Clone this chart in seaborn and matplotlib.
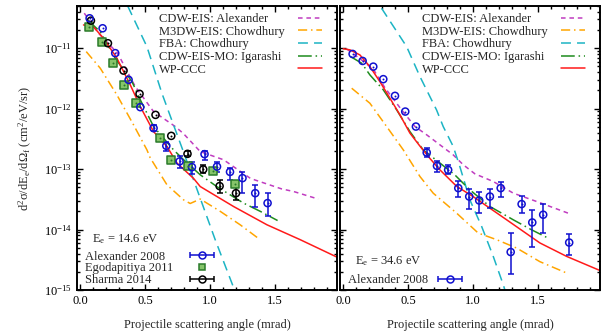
import numpy as np
import matplotlib
matplotlib.use('Agg')
import matplotlib.pyplot as plt
import seaborn as sns
from matplotlib.ticker import MultipleLocator, LogLocator, FixedLocator, NullFormatter
from matplotlib.container import ErrorbarContainer
from matplotlib.legend_handler import HandlerErrorbar

# estilo
sns.set_theme(style='ticks')
plt.rcParams['font.family'] = ['Liberation Serif', 'DejaVu Serif']
plt.rcParams['mathtext.fontset'] = 'custom'
plt.rcParams['mathtext.rm'] = 'Liberation Serif'
plt.rcParams['mathtext.it'] = 'Liberation Serif:italic'
plt.rcParams['mathtext.default'] = 'regular'
plt.rcParams['font.size'] = 9

# ---- panel izquierdo: Ee = 14.6 eV ----
cdw_x_14 = [0.031, 0.141, 0.287, 0.423, 0.564, 0.731, 0.795, 0.923, 1.102, 1.31, 1.55, 1.64, 1.83]
cdw_y_14 = [3.8e-11, 1.77e-11, 8.3e-12, 2.32e-12, 8.95e-13, 5.06e-13, 3.85e-13, 1.95e-13, 1.43e-13, 7.0e-14, 4.7e-14, 4.27e-14, 3.2e-14]

m3dw_x_14 = [0.046, 0.154, 0.282, 0.41, 0.513, 0.538, 0.667, 0.795, 0.846, 0.923, 1.077, 1.23, 1.372]
m3dw_y_14 = [8.8e-12, 4.67e-12, 1.69e-12, 5.4e-13, 2.08e-13, 1.54e-13, 5.5e-14, 3.1e-14, 2.7e-14, 3.2e-14, 2.0e-14, 1.2e-14, 7.1e-15]

fba_x_14 = [0.365, 0.513, 0.628, 0.795, 1.038, 1.18, 1.2]
fba_y_14 = [5.0e-11, 1.06e-11, 1.8e-12, 1.9e-13, 6.8e-15, 1.09e-15, 8.5e-16]

mo_x_14 = [0.056, 0.154, 0.269, 0.398, 0.462, 0.564, 0.718, 0.795, 0.923, 1.05, 1.256, 1.385, 1.518]
mo_y_14 = [2.94e-11, 1.88e-11, 6.84e-12, 2.8e-12, 1.4e-12, 5.06e-13, 2.08e-13, 1.43e-13, 8.05e-14, 5.15e-14, 2.74e-14, 2.0e-14, 1.41e-14]

ccc_x_14 = [0.025, 0.10, 0.179, 0.282, 0.385, 0.462, 0.564, 0.667, 0.744, 0.872, 0.923, 1.179, 1.436, 1.692, 1.975]
ccc_y_14 = [2.43e-11, 2.28e-11, 1.46e-11, 6.84e-12, 2.47e-12, 1.08e-12, 4.18e-13, 2.37e-13, 1.26e-13, 7.0e-14, 5.15e-14, 2.41e-14, 1.2e-14, 6.8e-15, 3.5e-15]

alex_x_14 = [0.072, 0.172, 0.269, 0.372, 0.462, 0.564, 0.662, 0.764, 0.859, 0.956, 1.052, 1.152, 1.248, 1.346, 1.441]
alex_y_14 = [3.13e-11, 2.14e-11, 8.3e-12, 3.0e-12, 1.06e-12, 4.76e-13, 2.43e-13, 1.34e-13, 1.08e-13, 1.77e-13, 1.10e-13, 9.0e-14, 7.1e-14, 4.0e-14, 2.74e-14]
alex_lo_14 = [3.13e-11, 2.14e-11, 8.3e-12, 3.0e-12, 1.06e-12, 4.2e-13, 2.03e-13, 1.04e-13, 8.4e-14, 1.42e-13, 8.9e-14, 6.5e-14, 4.0e-14, 2.35e-14, 1.69e-14]
alex_hi_14 = [3.13e-11, 2.14e-11, 8.3e-12, 3.0e-12, 1.06e-12, 5.3e-13, 2.86e-13, 1.66e-13, 1.29e-13, 2.03e-13, 1.31e-13, 1.06e-13, 9.0e-14, 5.56e-14, 4.1e-14]

ego_x_14 = [0.064, 0.167, 0.254, 0.338, 0.428, 0.61, 0.698, 0.825, 1.018, 1.192]
ego_y_14 = [2.28e-11, 1.28e-11, 5.78e-12, 2.47e-12, 1.26e-12, 3.33e-13, 1.39e-13, 1.13e-13, 9.2e-14, 5.65e-14]

sha_x_14 = [0.082, 0.213, 0.333, 0.456, 0.579, 0.70, 0.825, 0.946, 1.072, 1.198]
sha_y_14 = [2.86e-11, 1.21e-11, 4.27e-12, 1.76e-12, 7.9e-13, 3.55e-13, 1.79e-13, 9.9e-14, 5.24e-14, 4.0e-14]
sha_lo_14 = [2.86e-11, 1.21e-11, 4.27e-12, 1.76e-12, 7.9e-13, 3.55e-13, 1.62e-13, 8.6e-14, 4.1e-14, 3.11e-14]
sha_hi_14 = [2.86e-11, 1.21e-11, 4.27e-12, 1.76e-12, 7.9e-13, 3.55e-13, 2.03e-13, 1.18e-13, 6.5e-14, 4.97e-14]

# ---- panel derecho: Ee = 34.6 eV ----
cdw_x_34 = [0.028, 0.149, 0.231, 0.321, 0.449, 0.552, 0.642, 0.744, 0.846, 0.923, 1.013, 1.154, 1.308, 1.488, 1.744]
cdw_y_34 = [9.7e-12, 6.2e-12, 4.5e-12, 2.21e-12, 9.55e-13, 5.06e-13, 3.69e-13, 2.52e-13, 1.72e-13, 1.18e-13, 8.35e-14, 6.24e-14, 4.0e-14, 2.91e-14, 1.82e-14]

m3dw_x_34 = [0.065, 0.205, 0.334, 0.462, 0.59, 0.692, 0.872, 1.038, 1.18, 1.334, 1.513, 1.731]
m3dw_y_34 = [2.18e-12, 1.23e-12, 5.06e-13, 2.08e-13, 7.55e-14, 4.0e-14, 1.87e-14, 8.75e-15, 6.8e-15, 4.94e-15, 2.94e-15, 1.86e-15]

fba_x_34 = [0.295, 0.488, 0.59, 0.718, 0.769, 0.846, 0.897, 0.974, 1.065, 1.154, 1.231, 1.25]
fba_y_34 = [4.58e-11, 1.06e-11, 3.4e-12, 9.5e-13, 5.06e-13, 2.37e-13, 1.1e-13, 3.1e-14, 1.12e-14, 3.59e-15, 1.22e-15, 9.0e-16]

mo_x_34 = [0.057, 0.142, 0.205, 0.308, 0.411, 0.513, 0.615, 0.744, 0.859, 0.974, 1.128, 1.308, 1.449, 1.577]
mo_y_34 = [7.26e-12, 5.65e-12, 3.62e-12, 2.05e-12, 9.55e-13, 4.18e-13, 2.08e-13, 1.26e-13, 8.0e-14, 4.54e-14, 2.41e-14, 1.45e-14, 9.9e-15, 7.2e-15]

ccc_x_34 = [0.0, 0.052, 0.128, 0.205, 0.282, 0.359, 0.436, 0.513, 0.59, 0.667, 0.744, 0.872, 1.0, 1.257, 1.513, 1.718, 1.975]
ccc_y_34 = [9.8e-12, 9.4e-12, 7.75e-12, 4.96e-12, 2.8e-12, 1.49e-12, 7.9e-13, 3.94e-13, 2.4e-13, 1.5e-13, 9.7e-14, 5.2e-14, 3.5e-14, 1.45e-14, 6.0e-15, 3.6e-15, 2.1e-15]

alex_x_34 = [0.072, 0.149, 0.231, 0.308, 0.398, 0.477, 0.559, 0.642, 0.721, 0.807, 0.885, 0.969, 1.046, 1.128, 1.211, 1.288, 1.372, 1.454, 1.538, 1.738]
alex_y_34 = [8.05e-12, 6.16e-12, 4.96e-12, 3.08e-12, 1.63e-12, 8.96e-13, 5.06e-13, 1.88e-13, 1.13e-13, 9.7e-14, 4.85e-14, 3.52e-14, 3.03e-14, 3.52e-14, 4.85e-14, 4.25e-15, 2.64e-14, 1.31e-14, 1.76e-14, 6.1e-15]
alex_lo_34 = [8.05e-12, 6.16e-12, 4.96e-12, 3.08e-12, 1.63e-12, 8.96e-13, 5.06e-13, 1.61e-13, 9.1e-14, 8.4e-14, 3.4e-14, 2.23e-14, 1.87e-14, 2.25e-14, 3.4e-14, 1.86e-15, 1.87e-14, 5.14e-15, 8.75e-15, 3.73e-15]
alex_hi_34 = [8.05e-12, 6.16e-12, 4.96e-12, 3.08e-12, 1.63e-12, 8.96e-13, 5.06e-13, 2.22e-13, 1.34e-13, 1.18e-13, 6.4e-14, 4.67e-14, 4.17e-14, 4.67e-14, 6.2e-14, 8.75e-15, 3.66e-14, 2.07e-14, 2.64e-14, 8.5e-15]

etiquetas = ['CDW-EIS: Alexander', 'M3DW-EIS: Chowdhury', 'FBA: Chowdhury', 'CDW-EIS-MO: Igarashi', 'WP-CCC']
colores = ['#c03cc0', '#ffa500', '#1cb4c4', '#1e8c1e', '#ff1a1a']
estilos = [(0, (3, 2.5)), (0, (6, 2.5, 1, 2.5)), (0, (6.5, 4)), (0, (9, 2.5, 1, 2.5)), '-']
azul = '#1010d0'
y_mayores = [1e-15, 1e-14, 1e-13, 1e-12, 1e-11]


def curvas(ax, series):
    handles = []
    for (x, y), lab, col, ls in zip(series, etiquetas, colores, estilos):
        sns.lineplot(x=x, y=y, ax=ax, color=col, linestyle=ls, linewidth=1.1,
                     errorbar=None, legend=False)
        h = ax.get_lines()[-1]
        h.set_label(lab)
        handles.append(h)
    return handles


def datos(ax, x, y, lo, hi, color, marker='o', mfc='none', mec=None, center=True):
    x = np.array(x); y = np.array(y)
    if lo is not None:
        lo = np.array(lo); hi = np.array(hi)
        m = (hi > y) | (lo < y)
        ax.errorbar(x[m], y[m], yerr=[y[m] - lo[m], hi[m] - y[m]], fmt='none',
                    ecolor=color, elinewidth=1.1, capsize=2.5, capthick=1.1, zorder=4)
    sns.scatterplot(x=x, y=y, ax=ax, marker=marker, s=26, facecolor=mfc,
                    edgecolor=mec or color, linewidth=1.1, zorder=5, legend=False)
    if center:
        sns.scatterplot(x=x, y=y, ax=ax, marker='o', s=2, color=mec or color,
                        linewidth=0, zorder=6, legend=False)


def handle_err(ax, color, label):
    h = ax.errorbar([np.nan], [np.nan], xerr=[[0.1], [0.1]], fmt='o', color=color,
                    mfc='none', mec=color, ms=5, mew=1.1, elinewidth=1.1,
                    capsize=2.5, capthick=1.1, label=label)
    return h


def alinear(leg):
    # texto a la izquierda, muestra a la derecha
    fig.canvas.draw()
    r = fig.canvas.get_renderer()
    items = leg._legend_handle_box.get_children()[0].get_children()
    anchos = [t.get_window_extent(r).width * 72 / fig.dpi for t in leg.get_texts()]
    for it, w in zip(items, anchos):
        it.sep = it.sep + (max(anchos) - w)


fig = plt.figure(figsize=(6.08, 3.35), dpi=100)
ax1 = fig.add_axes([77 / 608, 1 - 290 / 335, 260 / 608, 284 / 335])
ax2 = fig.add_axes([340 / 608, 1 - 290 / 335, 260 / 608, 284 / 335])

h1 = curvas(ax1, [(cdw_x_14, cdw_y_14), (m3dw_x_14, m3dw_y_14), (fba_x_14, fba_y_14),
                  (mo_x_14, mo_y_14), (ccc_x_14, ccc_y_14)])
h2 = curvas(ax2, [(cdw_x_34, cdw_y_34), (m3dw_x_34, m3dw_y_34), (fba_x_34, fba_y_34),
                  (mo_x_34, mo_y_34), (ccc_x_34, ccc_y_34)])

datos(ax1, ego_x_14, ego_y_14, None, None, '#2a7a2a', marker='s', mfc='#86c46a')
datos(ax1, sha_x_14, sha_y_14, sha_lo_14, sha_hi_14, 'black')
datos(ax1, alex_x_14, alex_y_14, alex_lo_14, alex_hi_14, azul)
datos(ax2, alex_x_34, alex_y_34, alex_lo_34, alex_hi_34, azul)

# leyendas de abajo
ha1 = handle_err(ax1, azul, 'Alexander 2008')
he1 = ax1.plot([np.nan], [np.nan], 's', ms=5, mfc='#86c46a', mec='#2a7a2a', mew=1.1,
               label='Egodapitiya 2011')[0]
hs1 = handle_err(ax1, 'black', 'Sharma 2014')
ha2 = handle_err(ax2, azul, 'Alexander 2008')

leyendas = []
for ax, h, hb, ee, pad in [(ax1, h1, [ha1, he1, hs1], '14.6', 1.35),
                           (ax2, h2, [ha2], '34.6', 0.75)]:
    leg = ax.legend(handles=h, loc='upper right', bbox_to_anchor=(0.942, 0.975),
                    frameon=False, markerfirst=False, handlelength=1.95,
                    handletextpad=1.0, labelspacing=0.05, borderaxespad=0,
                    borderpad=0, fontsize=9)
    ax.add_artist(leg)
    leg2 = ax.legend(handles=hb, loc='lower left', bbox_to_anchor=(0.031, 0.014),
                     frameon=False, markerfirst=False, handlelength=1.95,
                     handletextpad=pad, labelspacing=-0.02, borderaxespad=0,
                     borderpad=0, fontsize=9, numpoints=1,
                     handler_map={ErrorbarContainer: HandlerErrorbar(xerr_size=0.95)})
    leyendas += [leg, leg2]
    ax.set_yscale('log')
    ax.set_xlim(-0.025, 1.975)
    ax.set_ylim(1e-15, 5e-11)
    ax.xaxis.set_major_locator(MultipleLocator(0.5))
    ax.xaxis.set_minor_locator(MultipleLocator(0.1))
    ax.yaxis.set_major_locator(FixedLocator(y_mayores))
    ax.yaxis.set_minor_locator(LogLocator(base=10, subs=np.arange(2, 10), numticks=20))
    ax.yaxis.set_minor_formatter(NullFormatter())
    ax.tick_params(which='both', direction='in', top=True, right=True, width=1.0,
                   labelsize=9, colors='black')
    ax.tick_params(which='major', length=4.5)
    ax.tick_params(which='minor', length=2.5)
    for s in ax.spines.values():
        s.set_linewidth(1.4)
        s.set_color('black')
    ax.set_xlabel('Projectile scattering angle (mrad)', fontsize=9, labelpad=9)
    ax.set_ylabel('')
    ax.text(0.058, 0.1 if ee == '34.6' else 0.178, 'E$_e$ = ' + ee + ' eV',
            transform=ax.transAxes, fontsize=9, va='center', ha='left')

ax1.xaxis.set_major_formatter(plt.FuncFormatter(lambda v, p: f'{v:.1f}'))
ax2.xaxis.set_major_formatter(plt.FuncFormatter(lambda v, p: f'{v:.1f}'))
ax2.tick_params(labelleft=False)
ax1.set_ylabel(r'd$^2\sigma$/dE$_e$/d$\Omega_f$ (cm$^2$/eV/sr)', fontsize=9, labelpad=7)

for leg in leyendas:
    alinear(leg)

fig.savefig('out.png', dpi=100)
